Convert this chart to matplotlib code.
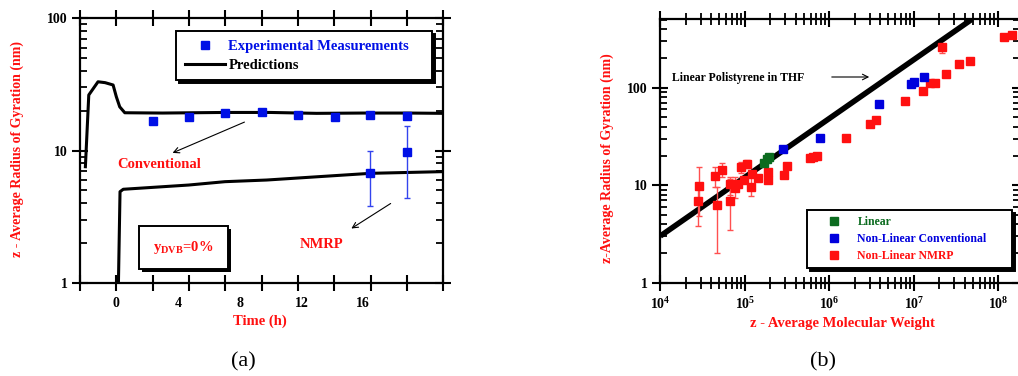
import numpy as np
import matplotlib
matplotlib.use('Agg')
import matplotlib.pyplot as plt
from matplotlib.patches import Rectangle
from matplotlib.lines import Line2D
from matplotlib.ticker import NullFormatter, LogLocator
import matplotlib.patheffects as pe

plt.rcParams['font.family'] = ['Liberation Serif', 'DejaVu Serif']
plt.rcParams['font.weight'] = 'bold'
plt.rcParams['mathtext.fontset'] = 'custom'
plt.rcParams['mathtext.rm'] = 'Liberation Serif:bold'
plt.rcParams['mathtext.bf'] = 'Liberation Serif:bold'
plt.rcParams['mathtext.it'] = 'Liberation Serif:bold'
plt.rcParams['mathtext.default'] = 'bf'

# ---------- data, panel (a) ----------
time_exp = [2.38, 4.70, 7.06, 9.46, 11.77, 14.2, 16.5, 18.85]
rg_conv_exp = [16.8, 17.8, 19.3, 19.4, 18.4, 18.0, 18.4, 18.1]
time_nmrp_exp = [16.5, 18.85]
rg_nmrp_exp = [6.8, 9.8]
rg_nmrp_lo = [3.8, 4.35]
rg_nmrp_hi = [10.0, 15.3]

time_conv_pred = [-2.01, -1.79, -1.19, -0.73, -0.21, 0.0, 0.22, 0.55, 3.0, 7.0, 10.0, 13.0, 16.0, 19.0, 21.24]
rg_conv_pred = [7.54, 26.3, 33.1, 32.6, 31.3, 25.5, 21.4, 19.3, 19.2, 19.4, 19.4, 19.1, 19.2, 19.2, 19.1]
time_nmrp_pred = [0.13, 0.24, 0.45, 4.7, 7.06, 9.77, 16.52, 20.97, 21.24]
rg_nmrp_pred = [0.9, 4.88, 5.09, 5.48, 5.81, 5.98, 6.72, 6.91, 6.92]

time_ticks = [-2.36, 0, 2.36, 4.72, 7.08, 9.44, 11.8, 14.16, 16.52, 18.88, 21.24]
time_labels = ['0', '4', '8', '12', '16']
time_label_pos = [0, 4.03, 8.03, 12.03, 16.0]

# ---------- data, panel (b) ----------
lin_M = [1.70e5, 1.84e5, 1.93e5]
lin_R = [17.0, 18.6, 19.5]
conv_M = [2.81e5, 7.76e5, 3.85e6, 9.27e6, 1.0e7, 1.32e7]
conv_R = [23.3, 30.3, 67.6, 108, 115, 130]
nmrp_M = [2.77e4, 2.87e4, 4.44e4, 4.68e4, 5.33e4, 6.68e4, 6.68e4, 7.66e4, 8.37e4, 9.0e4,
          1.05e5, 9.86e4, 1.18e5, 1.21e5, 1.42e5, 1.87e5, 1.87e5, 2.93e5, 3.13e5, 5.9e5,
          6.37e5, 7.22e5, 1.56e6, 3.03e6, 3.54e6, 7.85e6, 1.27e7, 1.56e7, 1.78e7, 2.16e7,
          2.39e7, 3.43e7, 4.62e7, 1.17e8, 1.44e8]
nmrp_R = [6.9, 9.9, 12.5, 6.2, 14.4, 10.2, 6.9, 9.4, 10.2, 15.5,
          16.5, 11.3, 9.7, 12.9, 11.9, 13.7, 11.3, 12.7, 15.8, 18.8,
          19.3, 19.9, 30.3, 42.2, 46.7, 73.6, 91.8, 112.5, 112.5, 259,
          139, 176, 187, 333, 344]
err_M = [2.77e4, 2.87e4, 4.44e4, 4.68e4, 5.33e4, 6.68e4, 6.68e4, 7.66e4, 9.0e4, 1.05e5, 1.18e5, 2.16e7]
err_R = [6.9, 9.9, 12.5, 6.2, 14.4, 10.2, 6.9, 9.4, 15.5, 16.5, 9.7, 259]
err_lo = [3.8, 4.8, 9.6, 2.0, 12.0, 8.0, 3.5, 7.4, 13.5, 15.0, 7.7, 225]
err_hi = [9.5, 15.5, 15.5, 9.6, 17.0, 12.0, 11.5, 12.0, 17.5, 18.3, 12.0, 265]
ps_M = [1e4, 4.9e7]
ps_R = [3.01, 506]

W, H = 1018, 376
RED = '#ff1010'
BLUE = '#0010e6'
GREEN = '#0b6b1f'


def fp(x, y):
    return (x / W, 1 - y / H)


fig = plt.figure(figsize=(W / 100, H / 100), dpi=100)

# ================= panel (a) =================
ax = fig.add_axes([80 / W, 1 - 282.7 / H, 363.3 / W, 264.4 / H])
ax.set_yscale('log')
ax.set_xlim(-2.36, 21.24)
ax.set_ylim(1, 100)

ax.plot(time_conv_pred, rg_conv_pred, color='black', lw=2.2, solid_joinstyle='round')
ax.plot(time_nmrp_pred, rg_nmrp_pred, color='black', lw=2.2, solid_joinstyle='round')
rg_nmrp_exp_arr = np.array(rg_nmrp_exp)
ax.errorbar(time_nmrp_exp, rg_nmrp_exp,
            yerr=[rg_nmrp_exp_arr - np.array(rg_nmrp_lo), np.array(rg_nmrp_hi) - rg_nmrp_exp_arr],
            fmt='none', ecolor='#3344ee', elinewidth=1.0, capsize=2.5, capthick=1.0)
ax.plot(time_exp, rg_conv_exp, 's', color=BLUE, ms=5.8, ls='none')
ax.plot(time_nmrp_exp, rg_nmrp_exp, 's', color=BLUE, ms=5.8, ls='none')

ax.xaxis.remove_overlapping_locs = False
ax.set_xticks(time_ticks)
ax.set_xticklabels([])
ax.set_xticks(time_label_pos, minor=True)
ax.set_xticklabels(time_labels, minor=True)
ax.tick_params(axis='x', which='major', direction='inout', length=12, width=1.5, top=True)
ax.tick_params(axis='x', which='minor', length=0, pad=10, labelsize=10)
ax.set_yticks([1, 10, 100])
ax.set_yticklabels(['1', '10', '100'])
ax.yaxis.set_minor_locator(LogLocator(base=10, subs=np.arange(2, 10)))
ax.yaxis.set_minor_formatter(NullFormatter())
ax.tick_params(axis='y', which='major', direction='inout', length=12, width=1.5, right=True, labelsize=10, pad=3)
ax.tick_params(axis='y', which='minor', direction='in', length=5, width=1.3, right=True)
for s in ax.spines.values():
    s.set_linewidth(1.6)

leg_handles = [Line2D([], [], marker='s', color=BLUE, ls='none', ms=5.8),
               Line2D([], [], color='black', lw=2.2)]
leg = ax.legend(leg_handles, ['Experimental Measurements', 'Predictions'],
                loc='upper left', bbox_to_anchor=(0.264, 0.767, 0.705, 0.185), mode='expand',
                borderaxespad=0, fontsize=10.5, frameon=True, fancybox=False,
                shadow={'color': 'black', 'alpha': 1}, handlelength=2.8, handletextpad=0.2,
                labelspacing=0.38, borderpad=0.6, numpoints=1)
leg.get_frame().set_edgecolor('black')
leg.get_frame().set_linewidth(1.4)
leg.get_texts()[0].set_color(BLUE)
leg.get_texts()[1].set_color('black')

box = Rectangle((0.162, 0.052), 0.245, 0.163, transform=ax.transAxes, fc='white', ec='black',
                lw=1.4, zorder=5)
box.set_path_effects([pe.SimplePatchShadow(offset=(2, -2), shadow_rgbFace='black', alpha=1), pe.Normal()])
ax.add_patch(box)
ax.text(0.162 + 0.1225, 0.052 + 0.0815, r'$y_{DVB}$=0%', transform=ax.transAxes, color=RED,
        fontsize=10.5, ha='center', va='center', zorder=6)

fig.text(*fp(159, 164), 'Conventional', color=RED, fontsize=10.5, ha='center', va='center')
fig.text(*fp(322, 245), 'NMRP', color=RED, fontsize=10.5, ha='center', va='center')
ax.annotate('', xy=fp(170, 154), xytext=fp(247, 121), xycoords='figure fraction',
            textcoords='figure fraction', arrowprops=dict(arrowstyle='->', color='black', lw=0.8))
ax.annotate('', xy=fp(349, 230), xytext=fp(393, 202), xycoords='figure fraction',
            textcoords='figure fraction', arrowprops=dict(arrowstyle='->', color='black', lw=0.8))

fig.text(*fp(17, 149), 'z - Average Radius of Gyration (nm)', color=RED, fontsize=10,
         rotation=90, ha='center', va='center')
fig.text(*fp(260, 321), 'Time (h)', color=RED, fontsize=10.5, ha='center', va='center')
fig.text(*fp(243, 362), '(a)', fontsize=16, fontweight='normal', ha='center', va='center')

# ================= panel (b) =================
bx = fig.add_axes([660.3 / W, 1 - 282.7 / H, 359.2 / W, 263.7 / H])
bx.set_xscale('log')
bx.set_yscale('log')
bx.set_xlim(1e4, 1.78e8)
bx.set_ylim(1, 507)

bx.plot(ps_M, ps_R, color='black', lw=4.0, solid_capstyle='butt')
err_R_arr = np.array(err_R)
bx.errorbar(err_M, err_R, yerr=[err_R_arr - np.array(err_lo), np.array(err_hi) - err_R_arr],
            fmt='none', ecolor='#ff5050', elinewidth=1.0, capsize=2.5, capthick=1.0)
bx.plot(nmrp_M, nmrp_R, 's', color=RED, ms=5.8, ls='none', label='Non-Linear NMRP')
bx.plot(lin_M, lin_R, 's', color=GREEN, ms=5.8, ls='none', label='Linear')
bx.plot(conv_M, conv_R, 's', color='#0000dd', ms=5.8, ls='none', label='Non-Linear Conventional')

bx.set_xticks([1e4, 1e5, 1e6, 1e7, 1e8])
bx.set_xticklabels([r'$10^{4}$', r'$10^{5}$', r'$10^{6}$', r'$10^{7}$', r'$10^{8}$'])
bx.xaxis.set_minor_locator(LogLocator(base=10, subs=np.arange(2, 10), numticks=20))
bx.xaxis.set_minor_formatter(NullFormatter())
bx.tick_params(axis='x', which='major', direction='inout', length=12, width=1.5, top=True,
               labelsize=10, pad=4)
bx.tick_params(axis='x', which='minor', direction='inout', length=8, width=1.3, top=True)
bx.set_yticks([1, 10, 100])
bx.set_yticklabels(['1', '10', '100'])
bx.yaxis.set_minor_locator(LogLocator(base=10, subs=np.arange(2, 10), numticks=20))
bx.yaxis.set_minor_formatter(NullFormatter())
bx.tick_params(axis='y', which='major', direction='inout', length=12, width=1.5, right=True,
               labelsize=10, pad=3)
bx.tick_params(axis='y', which='minor', direction='in', length=5, width=1.3, right=True)
for s in bx.spines.values():
    s.set_linewidth(1.6)

hl = [Line2D([], [], marker='s', color=GREEN, ls='none', ms=5.8),
      Line2D([], [], marker='s', color='#0000dd', ls='none', ms=5.8),
      Line2D([], [], marker='s', color=RED, ls='none', ms=5.8)]
leg2 = bx.legend(hl, ['Linear', 'Non-Linear Conventional', 'Non-Linear NMRP'],
                 loc='upper left', bbox_to_anchor=(0.409, 0.048, 0.571, 0.228), mode='expand',
                 borderaxespad=0, fontsize=8.5, frameon=True, fancybox=False,
                 shadow={'color': 'black', 'alpha': 1}, handlelength=3.5, handletextpad=0.2,
                 labelspacing=0.4, borderpad=0.55, numpoints=1)
leg2.get_frame().set_edgecolor('black')
leg2.get_frame().set_linewidth(1.4)
for t, c in zip(leg2.get_texts(), [GREEN, '#0000dd', RED]):
    t.set_color(c)

fig.text(*fp(672, 78), 'Linear Polistyrene in THF', color='black', fontsize=8.5, ha='left', va='center')
bx.annotate('', xy=fp(872, 77), xytext=fp(829, 77), xycoords='figure fraction',
            textcoords='figure fraction', arrowprops=dict(arrowstyle='->', color='black', lw=0.8))

fig.text(*fp(607, 158), 'z-Average Radius of Gyration (nm)', color=RED, fontsize=10,
         rotation=90, ha='center', va='center')
fig.text(*fp(842, 323), 'z - Average Molecular Weight', color=RED, fontsize=10.5, ha='center', va='center')
fig.text(*fp(823, 362), '(b)', fontsize=16, fontweight='normal', ha='center', va='center')

fig.savefig('out.png', dpi=100)
